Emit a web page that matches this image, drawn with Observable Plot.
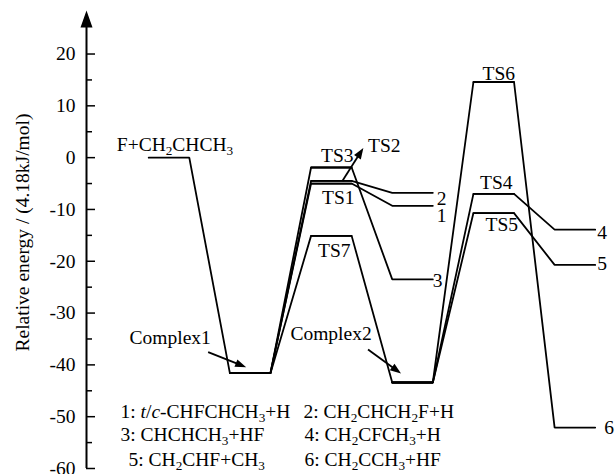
<!DOCTYPE html>
<html><head><meta charset="utf-8">
<script src="https://cdn.jsdelivr.net/npm/d3@7"></script>
<script src="https://cdn.jsdelivr.net/npm/@observablehq/plot@0.6"></script>
<style>
html,body{margin:0;padding:0;background:#fff}
#chart{width:615px;height:474px}
#chart svg, #chart svg text, #chart svg tspan, #chart svg g {font-family:"Liberation Serif","Times New Roman",serif !important}
</style>
</head><body><div id="chart"></div>
<script>
// ---- data ----
const levelNames    = ["R","Complex1","TS1","TS2","TS3","TS7","Complex2","P1","P2","P3","TS4","TS5","TS6","P4","P5","P6"];
const levelStages   = [0, 1, 2, 2, 2, 2, 3, 3, 3, 3, 4, 4, 4, 5, 5, 5];
const levelEnergies = [0, -41.6, -5.0, -4.5, -1.9, -15.1, -43.4, -9.3, -6.8, -23.5, -7.0, -10.7, 14.6, -13.9, -20.7, -52.1];

const pathFrom = ["R","Complex1","Complex1","Complex1","Complex1","TS1","TS2","TS3","TS7","Complex2","Complex2","Complex2","TS4","TS5","TS6"];
const pathTo   = ["Complex1","TS1","TS2","TS3","TS7","P1","P2","P3","Complex2","TS4","TS5","TS6","P4","P5","P6"];

const labelTargets = ["R","TS1","TS3","TS7","TS4","TS5","TS6","P1","P2","P3","P4","P5","P6"];
const labelTexts   = ["F+CH_2CHCH_3","TS1","TS3","TS7","TS4","TS5","TS6","1","2","3","4","5","6"];

const pointerTargets = ["Complex1","Complex2","TS2"];
const pointerTexts   = ["Complex1","Complex2","TS2"];

const legendTexts = ["1: *t*/*c*-CHFCHCH_3+H","2: CH_2CHCH_2F+H","3: CHCHCH_3+HF","4: CH_2CFCH_3+H","5: CH_2CHF+CH_3","6: CH_2CCH_3+HF"];

const yMajorTicks = [-60,-50,-40,-30,-20,-10,0,10,20];
const yMinorTicks = [-55,-45,-35,-25,-15,-5,5,15];
const yTitle = "Relative energy / (4.18kJ/mol)";

// ---- layout ----
const W = 615, H = 474, mL = 86, mR = 0, mT = 10, mB = 6;
const xMin = -1.016, xMax = 5.5, yMin = -60, yMax = 28.4;
const ux = (xMax - xMin) / (W - mL - mR);   // data units per px
const uy = (yMax - yMin) / (H - mT - mB);
const halfW = 0.25;
const px2x = px => xMin + (px - mL) * ux;
const px2y = py => yMax - (py - mT) * uy;
const FONT = "'Liberation Serif','Times New Roman',serif";

const levels = levelNames.map((name, i) => ({name, stage: levelStages[i], energy: levelEnergies[i]}));
const byName = Object.fromEntries(levels.map(d => [d.name, d]));

const pathPts = [];
pathFrom.forEach((f, i) => {
  const a = byName[f], b = byName[pathTo[i]];
  pathPts.push({id: i, x: a.stage - halfW, y: a.energy});
  pathPts.push({id: i, x: a.stage + halfW, y: a.energy});
  pathPts.push({id: i, x: b.stage - halfW, y: b.energy});
  pathPts.push({id: i, x: b.stage + halfW, y: b.energy});
});

// label placement: [textAnchor, reference point on level, dx px, dy px]
const labelLayout = {
  R:   ["middle","center",6,-12.5],
  TS1: ["middle","center",7,14.3],
  TS3: ["middle","center",6,-11.7],
  TS7: ["middle","center",3,15],
  TS4: ["middle","center",2.5,-11],
  TS5: ["middle","center",8,12],
  TS6: ["middle","center",5,-8.5],
  P1:  ["start","end",4,10],
  P2:  ["start","end",4,6],
  P3:  ["start","end",0,1],
  P4:  ["start","end",2,3.5],
  P5:  ["start","end",2,-1],
  P6:  ["start","end",9,0]
};
const labels = labelTargets.map((t, i) => {
  const lv = byName[t], [anchor, ref, dx, dy] = labelLayout[t];
  const bx = ref === "end" ? lv.stage + halfW : lv.stage;
  return {text: labelTexts[i], anchor, x: bx + dx * ux, y: lv.energy - dy * uy};
});

// pointer layout: text offset, arrow tail, arrow tip (px relative to level center)
const pointerLayout = {
  Complex1: [[-80,-35],[-42,-21],[-4,-6]],
  Complex2: [[-81.5,-49],[-44.5,-33],[-11.5,-9]],
  TS2:      [[53,-35],[11,0],[32,-33]]
};
const HEAD = 11, HEADW = 4;
const pointers = pointerTargets.map((t, i) => {
  const lv = byName[t], [tp, tail, tip] = pointerLayout[t];
  const vx = tip[0] - tail[0], vy = tip[1] - tail[1], len = Math.hypot(vx, vy);
  const nx = vx / len, ny = vy / len;
  const back = [tip[0] - nx * (HEAD - 2), tip[1] - ny * (HEAD - 2)];
  return {
    text: pointerTexts[i],
    tx: lv.stage + tp[0]*ux, ty: lv.energy - tp[1]*uy,
    x1: lv.stage + tail[0]*ux, y1: lv.energy - tail[1]*uy,
    x2: lv.stage + back[0]*ux, y2: lv.energy - back[1]*uy,
    hx: lv.stage + tip[0]*ux, hy: lv.energy - tip[1]*uy,
    head: {draw(ctx) {
      ctx.moveTo(0, 0);
      ctx.lineTo(-nx*HEAD - ny*HEADW, -ny*HEAD + nx*HEADW);
      ctx.lineTo(-nx*HEAD + ny*HEADW, -ny*HEAD - nx*HEADW);
      ctx.closePath();
    }}
  };
});

const legendColX = [120, 303];
const legendRowY = [411, 434.5, 459.5];
const legend = legendTexts.map((t, i) => {
  const row = Math.floor(i / 2), col = i % 2;
  const px = legendColX[col] + (row === 2 && col === 0 ? 8 : 0) + (row > 0 && col === 1 ? 1 : 0);
  return {text: t, x: px2x(px), y: px2y(legendRowY[row])};
});

const axisArrow = {draw(ctx) { ctx.moveTo(0, 0); ctx.lineTo(-6, 17); ctx.lineTo(6, 17); ctx.closePath(); }};

const FS = 19.5;
const chart = Plot.plot({
  width: W, height: H,
  marginLeft: mL, marginRight: mR, marginTop: mT, marginBottom: mB,
  x: {domain: [xMin, xMax], axis: null},
  y: {domain: [yMin, yMax]},
  style: {fontFamily: FONT, fontSize: FS + "px", color: "black", background: "white"},
  marks: [
    Plot.ruleX([xMin], {y1: yMin, y2: yMax - 3, stroke: "black", strokeWidth: 2}),
    Plot.dot([0], {x: () => xMin, y: () => yMax, symbol: axisArrow, fill: "black", stroke: null}),
    Plot.axisY(yMajorTicks, {anchor: "left", tickSize: -9, tickPadding: 20, tickFormat: d => String(d), strokeWidth: 1.5, label: null, fontSize: FS, fontFamily: FONT}),
    Plot.axisY(yMinorTicks, {anchor: "left", tickSize: -6, tickFormat: null, text: null, strokeWidth: 1.5, label: null}),
    Plot.text([yTitle], {frameAnchor: "left", textAnchor: "middle", rotate: -90, dx: -64, dy: -7, fontSize: FS, fontFamily: FONT, fill: "black"}),
    Plot.line(pathPts, {x: "x", y: "y", z: "id", stroke: "black", strokeWidth: 1.8, strokeLinejoin: "miter"}),
    Plot.text(labels.filter(d => d.anchor === "middle"), {x: "x", y: "y", text: "text", textAnchor: "middle", fontSize: FS, fontFamily: FONT, fill: "black"}),
    Plot.text(labels.filter(d => d.anchor === "start"), {x: "x", y: "y", text: "text", textAnchor: "start", fontSize: FS, fontFamily: FONT, fill: "black"}),
    Plot.text(pointers, {x: "tx", y: "ty", text: "text", textAnchor: "middle", fontSize: FS, fontFamily: FONT, fill: "black"}),
    Plot.link(pointers, {x1: "x1", y1: "y1", x2: "x2", y2: "y2", stroke: "black", strokeWidth: 1.8}),
    ...pointers.map(p => Plot.dot([p], {x: "hx", y: "hy", symbol: p.head, fill: "black", stroke: null})),
    Plot.text(legend, {x: "x", y: "y", text: "text", textAnchor: "start", fontSize: FS, fontFamily: FONT, fill: "black"})
  ]
});

// rich text: _d -> subscript digit, *s* -> italic
function richify(svg) {
  d3.select(svg).selectAll("text").each(function() {
    const el = this;
    if (el.querySelector("tspan")) return;
    const s = el.textContent;
    if (!/[_*]/.test(s)) return;
    el.textContent = "";
    const re = /_(\d)|\*([^*]+)\*|([^_*]+)/g;
    let m, shifted = false;
    while ((m = re.exec(s))) {
      const t = document.createElementNS("http://www.w3.org/2000/svg", "tspan");
      if (m[1]) {
        t.textContent = m[1];
        t.setAttribute("font-size", "0.68em");
        if (!shifted) t.setAttribute("dy", "4");
        shifted = true;
      } else {
        t.textContent = m[2] || m[3];
        if (m[2]) t.setAttribute("font-style", "italic");
        if (shifted) { t.setAttribute("dy", "-4"); shifted = false; }
      }
      el.appendChild(t);
    }
  });
}
richify(chart);
document.getElementById("chart").appendChild(chart);
</script>
</body></html>
